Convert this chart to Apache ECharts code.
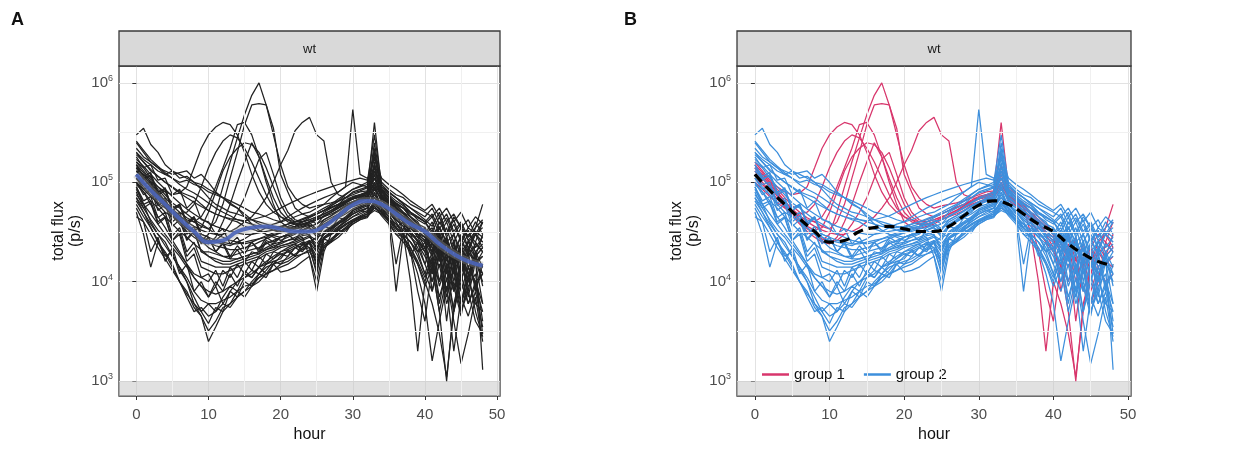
<!DOCTYPE html>
<html>
<head>
<meta charset="utf-8">
<script src="https://cdn.jsdelivr.net/npm/echarts@6/dist/echarts.min.js"></script>
<style>
  html, body { margin: 0; padding: 0; background: #ffffff; }
  #chart { width: 1240px; height: 454px; }
</style>
</head>
<body>
<div id="chart"></div>
<script>
// Sampling times (hours) of every bioluminescence track
const hours = [0,1,2,3,4,5,6,7,8,9,10,11,12,13,14,15,16,17,18,19,20,21,22,23,24,25,26,27,28,29,30,31,32,33,34,35,36,37,38,39,40,41,42,43,44,45,46,47,48];

// Smoothed trend of the whole population (thousands of p/s)
const fitHours = [0,2,4,6,8,10,12,14,16,18,20,22,24,26,28,30,32,34,36,38,40,42,44,46,48];
const fitFluxK = [120,83,60,43,32,25,26,32,35,36,34,32,32,36,46,59,65,60,48,38,32,24,19,16,14.5];

// Total flux per animal, thousands of p/s, one row per track (hours 0..48)
const group1FluxK = [
  [130,110,90,72,58,48,40,34,30,26, 30,50,90,160,280,480,750,1000,600,300, 150,90,70,60,55,58,60,62,65,70, 75,80,82,400,85,70,55,40,20,8, 4,15,5,1,6,12,20,35,60],
  [160,130,105,85,70,58,50,44,40,36, 34,40,60,110,200,380,600,620,600,350, 120,80,55,48,45,48,52,56,60,66, 72,75,78,110,72,60,48,40,32,25, 20,15,10,18,8,14,22,18,30],
  [140,120,100,90,80,75,78,90,140,220, 300,360,400,380,300,200,120,80,60,50, 45,42,40,42,45,48,52,56,60,64, 68,70,72,150,74,64,55,48,42,35, 30,25,18,28,15,22,30,25,20],
  [110,95,80,68,58,50,45,42,40,45, 60,90,140,220,380,400,300,180,100,60, 40,35,34,36,38,42,46,50,55,60, 64,68,70,90,66,58,50,44,38,30, 26,20,30,16,24,12,20,15,18],
  [120,100,82,68,56,46,38,32,28,25, 24,28,40,60,100,160,250,180,110,70, 50,42,38,38,40,42,45,48,52,58, 62,66,70,120,70,62,55,48,40,30, 22,14,24,10,18,8,14,10,12],
  [140,115,95,78,64,54,46,40,36,33, 31,30,30,32,35,40,45,55,70,100, 150,210,330,400,450,300,260,100,75,70, 68,72,75,100,70,60,52,45,38,32, 28,22,18,25,14,20,12,16,14],
  [100,85,72,62,55,50,48,50,60,90, 140,200,260,300,280,220,160,110,75,55, 45,40,38,38,40,44,48,52,58,64, 70,74,78,200,80,70,62,55,45,38, 30,8,20,4,15,6,10,25,40],
  [150,125,100,80,65,52,42,35,30,27, 25,26,30,38,50,70,110,170,200,120, 70,50,42,40,42,45,48,52,58,64, 70,75,80,130,90,75,55,30,10,2, 10,6,3,1.1,5,15,25,30,22],
  [130,110,90,75,60,50,42,36,33,35, 50,80,130,180,220,250,240,200,140,90, 60,45,40,40,42,45,48,52,56,62, 68,72,75,95,72,65,58,50,42,36, 30,24,20,26,16,22,14,18,22]
];

const group2FluxK = [
  [300,350,240,200,150,130,120,110,100,85, 70,60,55,50,48,45,42,40,38,36, 35,38,40,42,45,48,52,58,65,75, 85,90,95,180,85,70,55,48,35,30, 28,20,35,25,18,30,22,15,12],
  [220,180,160,140,130,120,125,130,110,120, 100,80,70,60,55,45,38,33,30,28, 26,28,30,35,40,42,50,55,60,70, 80,85,90,110,80,65,60,50,45,40, 30,40,25,35,20,28,18,24,20],
  [90,60,40,30,25,18,14,10,6,4.5, 2.5,3.5,5,6,7,8,10,12,14,15, 18,20,18,22,25,20,28,30,35,40, 45,50,55,70,60,50,40,30,25,20, 12,8,15,6,10,5,8,4,3],
  [60,45,35,25,20,15,10,8,5.5,4.5, 3.2,4,5.5,6,8,7,9,11,13,16, 15,18,22,20,25,28,30,33,38,42, 48,52,50,65,55,48,35,40,30,28, 20,10,18,8,14,6,12,5,2.8],
  [50,30,14,25,18,20,12,15,8,10, 7,9,6,8,10,12,11,14,16,18, 20,22,24,21,26,15,28,32,36,40, 45,48,52,60,55,45,15,35,28,22, 15,25,10,20,8,15,10,18,1.3],
  [45,40,20,28,16,22,13,10,7,5, 6,5,7,9,8,11,13,12,15,17, 19,18,22,25,24,18,27,30,33,38, 42,45,48,55,50,42,38,30,25,20, 22,15,28,12,25,10,20,8,15],
  [150,110,115,80,85,55,60,40,45,30, 28,20,24,17,21,16,20,19,25,22, 25,26,28,30,32,30,35,40,45,50, 60,65,70,120,70,60,50,45,40,35, 30,35,22,28,15,25,20,30,25],
  [180,140,150,105,110,75,85,55,65,42, 40,30,34,24,28,21,25,20,26,24, 28,30,32,30,33,35,38,42,48,55, 62,70,75,200,80,70,60,55,45,38, 35,25,40,30,45,35,28,40,30],
  [200,170,150,130,120,110,100,105,95,90, 80,75,70,65,60,55,50,48,45,42, 40,45,50,55,60,65,70,75,80,90, 100,95,90,150,100,85,75,70,60,55, 50,45,55,40,48,35,42,30,40],
  [110,90,75,60,50,45,40,35,30,28, 26,25,24,23,25,27,30,32,35,38, 40,42,45,48,50,55,60,70,80,90, 540,120,110,130,90,80,70,60,50,45, 40,30,35,25,30,20,25,18,22],
  [70,55,42,33,28,22,18,14,11,9, 8,7.5,8,9,10,11,12,14,15,16, 17,21,18,24,22,12,27,25,33,31, 40,44,46,52,48,40,30,28,22,15, 10,18,6,14,9,4.5,11,6,5],
  [85,60,65,40,45,26,30,16,19,11, 12,9,13,11,15,12,16,14,19,17, 20,21,23,24,26,22,28,31,34,38, 42,46,50,90,52,45,38,33,28,24, 18,12,22,15,8,16,12,20,9],
  [130,110,90,75,60,50,42,35,30,26, 22,20,18,17,17,18,19,20,21,22, 23,24,26,28,18,8,20,30,35,42, 48,52,55,75,58,50,42,36,30,26, 22,30,18,25,14,20,12,16,10],
  [160,140,110,90,75,62,55,48,42,38, 34,30,28,26,25,24,25,27,29,31, 33,35,36,38,40,42,45,50,55,62, 68,72,78,250,85,75,65,58,50,45, 40,32,45,28,38,25,33,22,28],
  [95,80,65,55,45,38,32,28,24,21, 18,16,15,15,16,17,18,19,21,23, 24,26,27,29,30,20,32,36,40,45, 52,56,60,70,55,40,8,30,35,28, 25,18,30,14,22,10,18,9,12],
  [250,200,160,140,120,130,110,115,100,95, 85,78,70,62,55,48,42,38,35,33, 32,34,36,40,44,48,52,58,64,70, 78,82,88,140,90,78,70,62,55,50, 45,55,38,48,32,40,28,35,42],
  [55,40,30,22,17,13,10,7,5,5.5, 4.5,5,6,5.5,7,8,9,10,12,13, 14,15,17,19,20,16,22,25,28,33, 38,42,45,55,48,42,32,28,20,12, 6,1.6,4,9,2,7,4.5,8,3.5],
  [100,75,85,52,60,36,42,26,32,20, 20,19,18,18,19,20,21,22,24,26, 28,29,31,33,35,30,37,40,44,48, 54,58,62,160,65,56,48,42,36,32, 28,20,32,18,26,14,22,15,20],
  [140,105,120,75,82,52,58,38,45,30, 28,26,25,24,24,25,26,27,28,30, 31,32,34,35,37,33,40,44,48,54, 60,64,68,100,72,62,52,45,38,34, 30,22,14,26,10,20,7,16,6],
  [75,60,48,38,30,24,19,15,12,11, 10,13,9,14,11,16,13,18,15,20, 19,20,22,23,25,14,27,30,33,37, 41,45,48,62,50,42,35,30,18,25, 15,10,20,7,13,5,9,12,4],
  [260,210,170,145,125,110,95,85,78,70, 62,55,50,46,42,40,38,36,35,35, 36,38,40,43,46,50,55,60,68,76, 85,92,100,300,95,80,70,62,55,48, 42,36,50,30,42,26,35,30,25],
  [120,95,100,62,70,44,50,30,36,24, 28,20,25,18,23,19,25,21,28,25, 28,30,31,33,35,28,37,41,46,52, 57,60,65,85,68,60,52,45,40,28, 35,18,28,12,22,16,8,20,14],
  [65,50,38,30,23,18,14,11,8,6.5, 6,6,6.5,7,8,9,9.5,11,12,13, 15,16,18,19,21,13,23,26,30,34, 38,42,44,58,46,38,30,25,20,15, 9,14,5,11,4,1.5,3,7,2.5],
  [170,145,120,100,85,72,62,54,48,43, 39,36,34,32,31,30,30,31,32,33, 35,36,38,40,42,38,46,50,56,63, 70,75,80,220,82,72,62,55,50,42, 38,45,30,40,25,35,22,30,35],
  [80,55,62,38,44,26,32,18,22,14, 13,12,12,13,14,15,16,17,19,20, 22,23,24,26,28,24,30,34,38,43, 48,52,55,80,58,50,42,36,30,20, 25,12,22,8,18,6,14,10,6],
  [200,160,130,115,100,90,80,75,70,60, 52,48,45,42,40,36,34,32,30,29, 28,30,32,33,36,38,42,46,52,58, 64,68,72,110,75,68,60,55,48,44, 40,48,34,44,30,38,26,32,28],
  [70,50,35,26,19,14,10,7.5,6,5, 3.8,5.5,5,8,7,10,9,12,11,15, 16,17,19,21,22,17,24,27,31,35, 40,43,46,60,50,43,35,30,25,18, 12,20,9,15,5,12,6,10,3],
  [110,85,92,58,66,40,46,27,33,20, 18,17,16,16,17,18,19,20,22,24, 25,30,26,33,29,26,36,34,44,42, 52,56,60,95,62,55,46,40,34,30, 26,32,20,28,16,24,14,18,12],
  [190,160,135,115,100,88,78,70,63,57, 52,48,45,43,42,41,42,44,46,50, 55,60,65,70,75,80,85,90,95,100, 105,110,105,170,110,95,85,75,65,58, 52,60,45,55,40,50,35,45,38],
  [90,65,72,44,50,29,35,20,25,16, 15,14,14,14,15,16,17,18,20,21, 23,24,25,27,29,22,31,35,39,44, 50,54,58,75,60,52,44,38,32,26, 20,28,16,24,12,20,10,16,18],
  [100,80,60,45,35,26,20,15,11,9, 7,10,8,12,9,13,11,14,12,15, 12.5,13,14,16,18,10,22,26,30,35, 40,44,48,65,50,42,34,28,22,16, 11,17,7,13,5,10,6,9,5],
  [150,115,125,78,88,52,60,37,44,28, 25,23,22,21,21,22,23,25,27,29, 31,33,35,37,39,34,42,46,51,57, 63,67,72,130,76,66,56,48,42,36, 32,24,36,20,30,17,26,20,24]
];

// Axis ticks and labels
const hourTicks = [0, 10, 20, 30, 40, 50];
const hourMinor = [5, 15, 25, 35, 45];
const decadeTicks = [1000, 10000, 100000, 1000000];
const decadeMinor = [3162.28, 31622.8, 316228];
const groupNames = ['group 1', 'group 2'];
const stripLabel = 'wt';
const panelLabels = ['A', 'B'];

const FONT = "'Liberation Sans', Arial, Helvetica, sans-serif";
const K = 1000;               // fluxes are stored in thousands
const Y_MIN = 707.9;          // 10^2.85
const Y_MAX = 1479108;        // 10^6.17
const X_MIN = -2.4, X_MAX = 50.4;

const panels = [
  { left: 119, width: 381, labelX: 11 },
  { left: 737, width: 394, labelX: 624 }
];
const PANEL_TOP = 66, PANEL_H = 330, STRIP_TOP = 31, STRIP_H = 35;

function track(values) {
  return hours.map((h, i) => [h, values[i] * K]);
}
const fitData = fitHours.map((h, i) => [h, fitFluxK[i] * K]);

const chart = echarts.init(document.getElementById('chart'), null, { renderer: 'canvas' });

const grids = [], xAxes = [], yAxes = [], series = [], graphics = [];

panels.forEach((p, i) => {
  grids.push({
    left: p.left, top: PANEL_TOP, width: p.width, height: PANEL_H,
    show: true, backgroundColor: '#ffffff', borderColor: '#3a3a3a', borderWidth: 1.3
  });
  xAxes.push({
    type: 'value', gridIndex: i, min: X_MIN, max: X_MAX,
    axisLine: { show: false },
    axisTick: { show: true, length: 4, lineStyle: { color: '#333' }, customValues: hourTicks },
    axisLabel: { customValues: hourTicks, fontSize: 15, color: '#4d4d4d', margin: 11, fontFamily: FONT },
    splitLine: { show: true, lineStyle: { color: '#e2e2e2', width: 1 } },
    name: 'hour', nameLocation: 'middle', nameGap: 31,
    nameTextStyle: { fontSize: 16, color: '#111', fontFamily: FONT }
  });
  yAxes.push({
    type: 'log', logBase: 10, gridIndex: i, min: Y_MIN, max: Y_MAX,
    axisLine: { show: false },
    axisTick: { show: true, length: 4, lineStyle: { color: '#333' }, customValues: decadeTicks },
    axisLabel: {
      customValues: decadeTicks, margin: 6,
      formatter: v => '{b|10}{s|' + Math.round(Math.log10(v)) + '}',
      rich: {
        b: { fontSize: 15, color: '#4d4d4d', fontFamily: FONT, lineHeight: 18 },
        s: { fontSize: 9, color: '#4d4d4d', fontFamily: FONT, lineHeight: 11, verticalAlign: 'top' }
      }
    },
    splitLine: { show: true, lineStyle: { color: '#e2e2e2', width: 1 } },
    minorTick: { show: false }, minorSplitLine: { show: false },
    name: 'total flux\n(p/s)', nameLocation: 'middle', nameGap: 35, nameRotate: 90,
    nameTextStyle: { fontSize: 16, color: '#111', fontFamily: FONT, lineHeight: 17 }
  });

  // minor grid and the shaded floor below 10^3
  series.push({
    type: 'line', xAxisIndex: i, yAxisIndex: i, data: [], silent: true, z: 1,
    markLine: {
      silent: true, symbol: 'none', label: { show: false }, animation: false,
      lineStyle: { color: '#f0f0f0', width: 1, type: 'solid' },
      data: hourMinor.map(h => ({ xAxis: h })).concat(decadeMinor.map(v => ({ yAxis: v })))
    },
    markArea: {
      silent: true, animation: false,
      itemStyle: { color: 'rgba(200,200,200,0.55)' },
      data: [[{ yAxis: Y_MIN }, { yAxis: 1000 }]]
    }
  });

  // strip header
  graphics.push({
    type: 'rect', shape: { x: p.left, y: STRIP_TOP, width: p.width, height: STRIP_H },
    style: { fill: '#d9d9d9', stroke: '#3a3a3a', lineWidth: 1.3 }, z: 10
  });
  graphics.push({
    type: 'text', x: p.left + p.width / 2, y: STRIP_TOP + STRIP_H / 2 + 1,
    style: { text: stripLabel, fontSize: 13, fill: '#1a1a1a', fontFamily: FONT, align: 'center', verticalAlign: 'middle' }, z: 11
  });
  graphics.push({
    type: 'text', x: p.labelX, y: 11,
    style: { text: panelLabels[i], fontSize: 18, fontWeight: 'bold', fill: '#111', fontFamily: FONT }, z: 11
  });
});

const lineBase = { type: 'line', symbol: 'none', showSymbol: false, silent: true, animation: false };

// Panel A: every track in dark grey, smooth trend in blue
group1FluxK.concat(group2FluxK).forEach(v => {
  series.push(Object.assign({}, lineBase, {
    name: 'wt', xAxisIndex: 0, yAxisIndex: 0, data: track(v), z: 3,
    lineStyle: { color: '#222222', width: 1.25 }, itemStyle: { color: '#222222' }
  }));
});
series.push(Object.assign({}, lineBase, {
  name: 'trend', xAxisIndex: 0, yAxisIndex: 0, data: fitData, smooth: 0.5, z: 5,
  lineStyle: { color: '#9a9a9a', width: 8, opacity: 0.35 }
}));
series.push(Object.assign({}, lineBase, {
  name: 'trend', xAxisIndex: 0, yAxisIndex: 0, data: fitData, smooth: 0.5, z: 6,
  lineStyle: { color: '#4a64b8', width: 4, opacity: 0.9 }
}));

// Panel B: tracks coloured by group, trend dashed black
const groupColors = ['#d8366c', '#3d8fdc'];
[group1FluxK, group2FluxK].forEach((grp, gi) => {
  grp.forEach(v => {
    series.push(Object.assign({}, lineBase, {
      name: groupNames[gi], xAxisIndex: 1, yAxisIndex: 1, data: track(v), z: 3 + gi,
      lineStyle: { color: groupColors[gi], width: 1.25 }, itemStyle: { color: groupColors[gi] }
    }));
  });
});
series.push(Object.assign({}, lineBase, {
  name: 'trend', xAxisIndex: 1, yAxisIndex: 1, data: fitData, smooth: 0.5, z: 6,
  lineStyle: { color: '#000000', width: 3.2, type: [10, 6] }
}));

chart.setOption({
  animation: false,
  backgroundColor: '#ffffff',
  textStyle: { fontFamily: FONT },
  grid: grids,
  xAxis: xAxes,
  yAxis: yAxes,
  legend: {
    data: groupNames.map(n => ({ name: n, icon: 'rect' })),
    left: 757, top: 362, orient: 'horizontal',
    itemWidth: 27, itemHeight: 2.5, itemGap: 19,
    textStyle: { fontSize: 15, color: '#111', fontFamily: FONT },
    selectedMode: false
  },
  graphic: graphics,
  series: series
});
</script>
</body>
</html>
